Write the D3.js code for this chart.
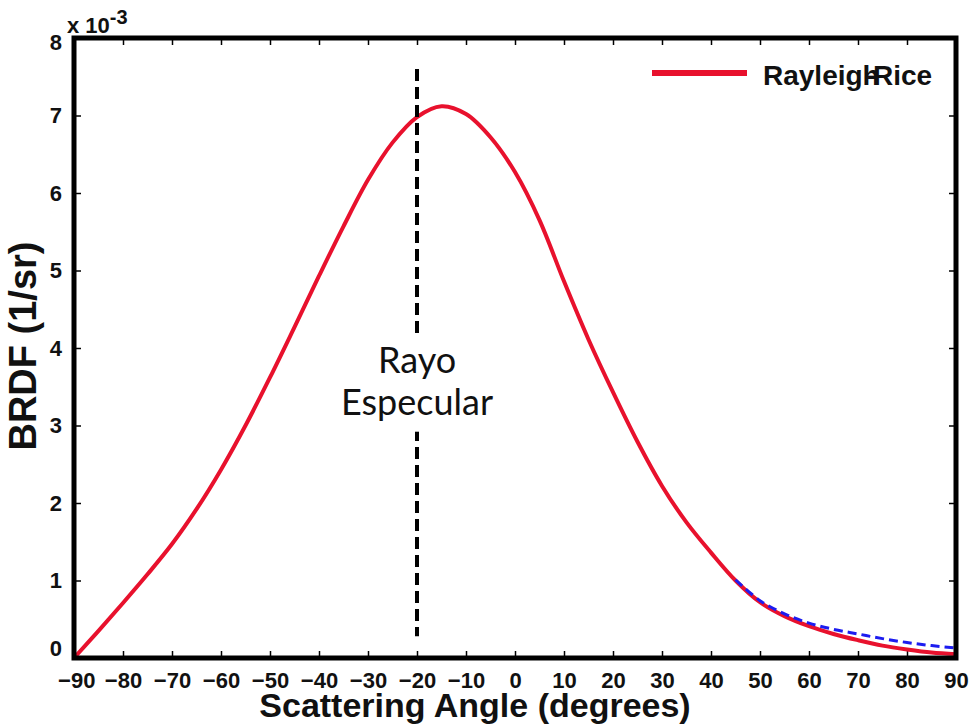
<!DOCTYPE html>
<html>
<head>
<meta charset="utf-8">
<script src="https://cdn.jsdelivr.net/npm/d3@7"></script>
<style>
  body { margin: 0; background: #fff; }
  svg { display: block; }
</style>
</head>
<body>
<svg id="chart" width="972" height="725"></svg>
<script>
// data (BRDF in units of 1e-3 1/sr)
var angles = [-90, -85, -80, -75, -70, -65, -60, -55, -50, -45, -40, -35, -30, -25, -20, -15, -10, -5,
              0, 5, 10, 15, 20, 25, 30, 35, 40, 45, 50, 55, 60, 65, 70, 75, 80, 85, 90];
var rayleighRice = [0, 0.35, 0.71, 1.08, 1.47, 1.92, 2.43, 3.0, 3.62, 4.27, 4.93, 5.57, 6.17, 6.65, 6.98, 7.12, 7.02, 6.72,
                    6.27, 5.65, 4.86, 4.11, 3.43, 2.79, 2.22, 1.75, 1.36, 1.0, 0.72, 0.54, 0.41, 0.31, 0.23, 0.16, 0.11, 0.07, 0.05];
var measAngles = [45, 50, 55, 60, 65, 70, 75, 80, 85, 90];
var measured = [1.01, 0.74, 0.57, 0.45, 0.37, 0.31, 0.25, 0.20, 0.16, 0.13];
var xTicks = d3.range(-90, 91, 10);
var yTicks = d3.range(0, 9, 1);
var specularAngle = -20;

var svg = d3.select("#chart");
var m = {left: 74, right: 16, top: 38, bottom: 67};
var W = 972, H = 725;

var x = d3.scaleLinear().domain([-90, 90]).range([m.left, W - m.right]);
var y = d3.scaleLinear().domain([0, 8]).range([H - m.bottom, m.top]);

var tickFont = "'Liberation Sans', Arial, sans-serif";

// axes (ticks inside)
var gx = svg.append("g").attr("transform", "translate(0," + y(0) + ")")
  .call(d3.axisBottom(x).tickValues(xTicks).tickSize(-7).tickPadding(14).tickSizeOuter(0));
var gxTop = svg.append("g").attr("transform", "translate(0," + y(8) + ")")
  .call(d3.axisTop(x).tickValues(xTicks).tickSize(-7).tickFormat("").tickSizeOuter(0));
var gy = svg.append("g").attr("transform", "translate(" + x(-90) + ",0)")
  .call(d3.axisLeft(y).tickValues(yTicks).tickSize(-7).tickPadding(12).tickSizeOuter(0));
var gyR = svg.append("g").attr("transform", "translate(" + x(90) + ",0)")
  .call(d3.axisRight(y).tickValues(yTicks).tickSize(-7).tickFormat("").tickSizeOuter(0));

[gx, gxTop, gy, gyR].forEach(function(g) {
  g.select(".domain").remove();
  g.selectAll(".tick line").attr("stroke", "#000").attr("stroke-width", 1.5);
  g.selectAll(".tick text").attr("font-family", tickFont).attr("font-weight", "bold")
    .attr("font-size", 22).attr("fill", "#111");
});
gy.selectAll(".tick text").filter(function(d) { return d === 0; }).attr("dy", "-0.1em");
gy.selectAll(".tick text").filter(function(d) { return d === 8; }).attr("dy", "0.5em");
gx.selectAll(".tick text").filter(function(d) { return d === -90; }).attr("dx", "0.1em");

// curves
var line = d3.line().x(function(d) { return x(d[0]); }).y(function(d) { return y(d[1]); })
  .curve(d3.curveCatmullRom.alpha(0.5));

svg.append("path")
  .datum(d3.zip(angles, rayleighRice))
  .attr("d", line)
  .attr("fill", "none").attr("stroke", "#e8112d").attr("stroke-width", 4);

svg.append("path")
  .datum(d3.zip(measAngles, measured))
  .attr("d", line)
  .attr("fill", "none").attr("stroke", "#1c1cf0").attr("stroke-width", 3)
  .attr("stroke-dasharray", "9,5");

// specular ray marker
svg.append("line")
  .attr("x1", x(specularAngle)).attr("x2", x(specularAngle))
  .attr("y1", y(7.6)).attr("y2", y(0.28))
  .attr("stroke", "#000").attr("stroke-width", 4).attr("stroke-dasharray", "12,6");

var labelFont = "Lato, 'Open Sans', sans-serif";
svg.append("rect")
  .attr("x", x(specularAngle) - 80).attr("y", y(4.12)).attr("width", 160).attr("height", y(2.92) - y(4.12))
  .attr("fill", "#fff");
svg.append("text")
  .attr("x", x(specularAngle)).attr("y", y(4.0) + 25)
  .attr("text-anchor", "middle").attr("font-family", labelFont).attr("font-size", 36).attr("fill", "#111")
  .text("Rayo");
svg.append("text")
  .attr("x", x(specularAngle)).attr("y", y(4.0) + 67)
  .attr("text-anchor", "middle").attr("font-family", labelFont).attr("font-size", 36).attr("fill", "#111")
  .text("Especular");

// frame
svg.append("rect")
  .attr("x", x(-90)).attr("y", y(8)).attr("width", x(90) - x(-90)).attr("height", y(0) - y(8))
  .attr("fill", "none").attr("stroke", "#000").attr("stroke-width", 5);

// exponent
var expo = svg.append("text").attr("x", 67).attr("y", 33)
  .attr("font-family", tickFont).attr("font-size", 22).attr("font-weight", "bold").attr("fill", "#111");
expo.append("tspan").text("x 10");
expo.append("tspan").attr("dy", -9).attr("font-size", 20).text("-3");

// legend
svg.append("line").attr("x1", 652).attr("x2", 747).attr("y1", 73).attr("y2", 73)
  .attr("stroke", "#e8112d").attr("stroke-width", 6);
var leg = svg.append("text").attr("x", 763).attr("y", 85)
  .attr("font-family", tickFont).attr("font-weight", "bold").attr("font-size", 28).attr("fill", "#111");
leg.append("tspan").text("Rayleigh");
leg.append("tspan").attr("dx", -13).text("-");
leg.append("tspan").attr("dx", -3).text("Rice");

// axis titles
svg.append("text")
  .attr("x", 475).attr("y", 717)
  .attr("text-anchor", "middle").attr("font-family", tickFont).attr("font-weight", "bold")
  .attr("font-size", 34).attr("fill", "#111")
  .text("Scattering Angle (degrees)");
svg.append("text")
  .attr("transform", "translate(36,346) rotate(-90)")
  .attr("text-anchor", "middle").attr("font-family", tickFont).attr("font-weight", "bold")
  .attr("font-size", 38).attr("fill", "#111")
  .text("BRDF (1/sr)");
</script>
</body>
</html>
